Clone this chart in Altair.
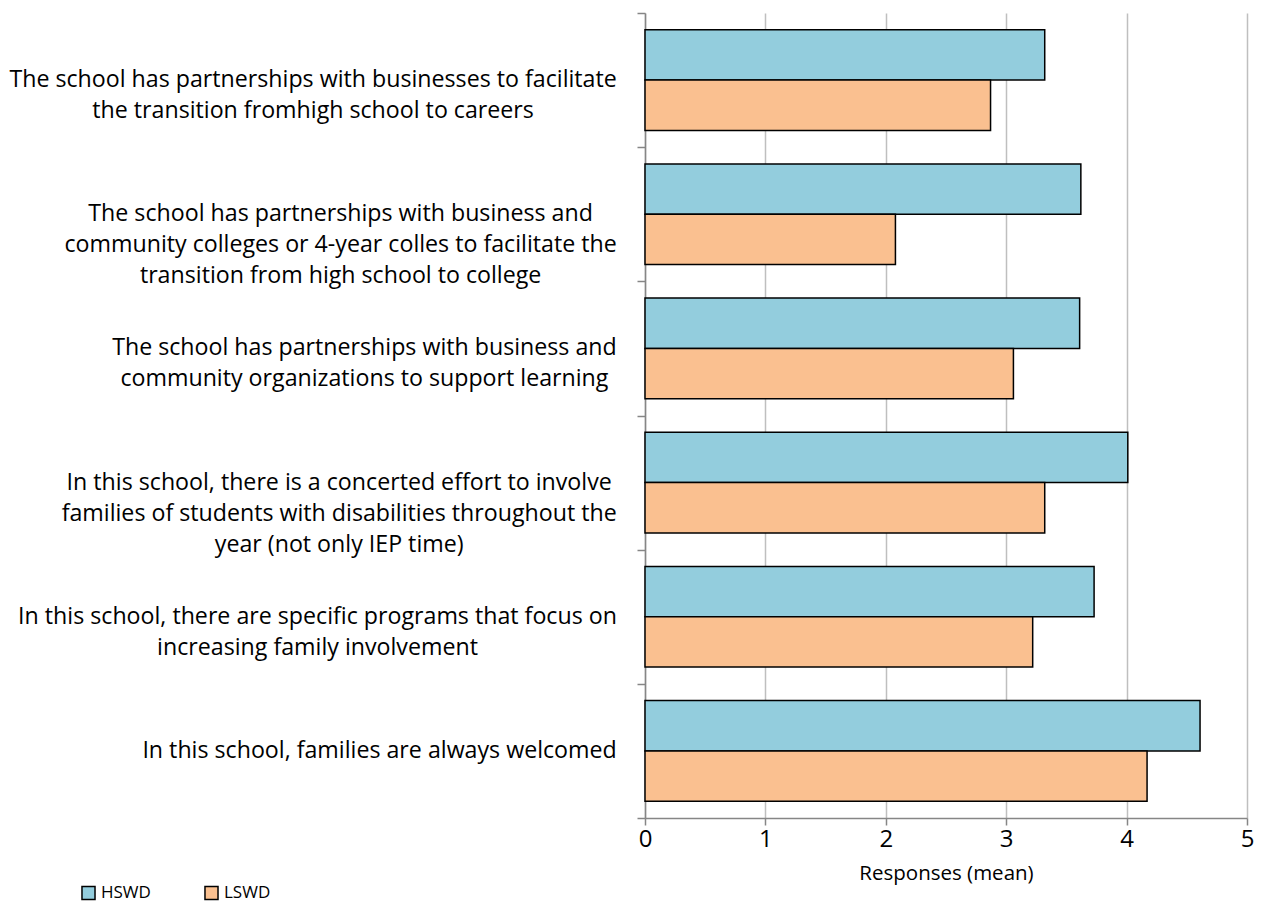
import glob
import os
import struct

import altair as alt
import pandas as pd

# ---------------- data ----------------
categories = [
    "The school has partnerships with businesses to facilitate\nthe transition fromhigh school to careers",
    "The school has partnerships with business and\ncommunity colleges or 4-year colles to facilitate the\ntransition from high school to college",
    "The school has partnerships with business and\ncommunity organizations to support learning ",
    "In this school, there is a concerted effort to involve\nfamilies of students with disabilities throughout the\nyear (not only IEP time)",
    "In this school, there are specific programs that focus on\nincreasing family involvement",
    "In this school, families are always welcomed",
]
hswd = [3.32, 3.62, 3.61, 4.01, 3.73, 4.61]
lswd = [2.87, 2.08, 3.06, 3.32, 3.22, 4.17]
series = ["HSWD", "LSWD"]
colors = ["#93CDDD", "#FAC090"]
x_ticks = [0, 1, 2, 3, 4, 5]
x_title = "Responses (mean)"

FONT = "Open Sans"

# ---------------- text measuring (reads the installed font file) ----------------
def _find_font():
    pats = ["OpenSans-Regular*.ttf", "OpenSans*.ttf"]
    roots = ["/usr/share/fonts", "/usr/local/share/fonts",
             os.path.expanduser("~/.fonts"), os.path.expanduser("~/.local/share/fonts")]
    for p in pats:
        for r in roots:
            hits = sorted(glob.glob(os.path.join(r, "**", p), recursive=True))
            hits = [h for h in hits if "Italic" not in h and "Bold" not in h and "Light" not in h
                    and "Semi" not in h and "Extra" not in h and "Condensed" not in h]
            if hits:
                return hits[0]
    return None


def _load_metrics(path):
    data = open(path, "rb").read()
    n = struct.unpack(">H", data[4:6])[0]
    tables = {}
    for i in range(n):
        tag, _cs, off, ln = struct.unpack(">4sIII", data[12 + 16 * i:28 + 16 * i])
        tables[tag.decode("latin1")] = off
    upem = struct.unpack(">H", data[tables["head"] + 18:tables["head"] + 20])[0]
    nhm = struct.unpack(">H", data[tables["hhea"] + 34:tables["hhea"] + 36])[0]
    ho = tables["hmtx"]
    adv = [struct.unpack(">H", data[ho + 4 * i:ho + 4 * i + 2])[0] for i in range(nhm)]
    co = tables["cmap"]
    ns = struct.unpack(">H", data[co + 2:co + 4])[0]
    cmap = {}
    for i in range(ns):
        pid, eid, so = struct.unpack(">HHI", data[co + 4 + 8 * i:co + 12 + 8 * i])
        sub = co + so
        fmt = struct.unpack(">H", data[sub:sub + 2])[0]
        if fmt != 4:
            continue
        segx2 = struct.unpack(">H", data[sub + 6:sub + 8])[0]
        seg = segx2 // 2
        ends = struct.unpack(">%dH" % seg, data[sub + 14:sub + 14 + segx2])
        starts = struct.unpack(">%dH" % seg, data[sub + 16 + segx2:sub + 16 + 2 * segx2])
        deltas = struct.unpack(">%dh" % seg, data[sub + 16 + 2 * segx2:sub + 16 + 3 * segx2])
        rpos = sub + 16 + 3 * segx2
        roffs = struct.unpack(">%dH" % seg, data[rpos:rpos + segx2])
        for s in range(seg):
            for c in range(starts[s], min(ends[s], 0x2FF) + 1):
                if roffs[s] == 0:
                    g = (c + deltas[s]) & 0xFFFF
                else:
                    a = rpos + 2 * s + roffs[s] + 2 * (c - starts[s])
                    g = struct.unpack(">H", data[a:a + 2])[0]
                    if g:
                        g = (g + deltas[s]) & 0xFFFF
                cmap[c] = g
        break
    return upem, adv, cmap


_metrics = None
try:
    _fp = _find_font()
    if _fp:
        _metrics = _load_metrics(_fp)
except Exception:
    _metrics = None


def text_width(text, size):
    if _metrics is None:
        return len(text) * 0.55 * size
    upem, adv, cmap = _metrics
    tot = 0
    for ch in text:
        g = cmap.get(ord(ch), 0)
        tot += adv[min(g, len(adv) - 1)]
    return tot * size / upem


# ---------------- layout ----------------
W_PLOT, H_PLOT = 602, 805
PAD_L, PAD_T = 645, 13
PAD_R = 1261 - PAD_L - W_PLOT
PAD_B = 907 - PAD_T - H_PLOT
LABEL_GAP = 28          # gap between label block and the axis
LONGEST_PX = 607        # width of the widest label line in the reference

all_lines = [ln for c in categories for ln in c.split("\n")]
longest = max(all_lines, key=lambda s: text_width(s, 1))
LABEL_SIZE = round(LONGEST_PX / text_width(longest, 1), 1)
LEG_SIZE = 17

px_per_unit = W_PLOT / (x_ticks[-1] - x_ticks[0])

bars = pd.DataFrame({
    "cat": categories * 2,
    "series": [series[0]] * len(categories) + [series[1]] * len(categories),
    "value": hswd + lswd,
})

label_rows = []
for c in categories:
    block = max(text_width(ln, LABEL_SIZE) for ln in c.split("\n"))
    center_px = -(LABEL_GAP + block / 2)
    label_rows.append({"cat": c, "cx": center_px / px_per_unit})
labels = pd.DataFrame(label_rows)

y_enc = alt.Y(
    "cat:N", sort=categories, title=None,
    scale=alt.Scale(paddingInner=0, paddingOuter=0),
    axis=alt.Axis(labels=False, ticks=True, tickBand="extent", tickSize=8,
                  tickColor="#868686", domainColor="#868686", domainWidth=1.5,
                  tickWidth=1.5, grid=False),
)

bar_layer = alt.Chart(bars).mark_bar(stroke="black", strokeWidth=1.5).encode(
    x=alt.X(
        "value:Q",
        scale=alt.Scale(domain=[x_ticks[0], x_ticks[-1]], nice=False, zero=True),
        axis=alt.Axis(values=x_ticks, title=x_title, format="d",
                      labelFontSize=24, labelFont=FONT, labelColor="black",
                      labelFlush=False, labelPadding=2,
                      tickSize=7, tickColor="#868686", tickWidth=1.5,
                      domainColor="#868686", domainWidth=1.5,
                      gridColor="#BFBFBF", gridWidth=1.5,
                      titleFontSize=20.5, titleFont=FONT, titleFontWeight="normal",
                      titleColor="black", titlePadding=12),
    ),
    y=y_enc,
    yOffset=alt.YOffset("series:N", sort=series,
                        scale=alt.Scale(paddingInner=0, paddingOuter=1 / 3)),
    color=alt.Color(
        "series:N", sort=series,
        scale=alt.Scale(domain=series, range=colors),
        legend=alt.Legend(
            title=None, orient="none", direction="horizontal",
            legendX=80 - PAD_L, legendY=884 - PAD_T,
            symbolType="square", symbolSize=170, symbolStrokeColor="black",
            symbolStrokeWidth=1.5, symbolOpacity=1,
            labelFont=FONT, labelFontSize=LEG_SIZE, labelColor="black",
            labelOffset=4,
            columnPadding=198 - 80 - (14 + 4 + text_width(series[0], LEG_SIZE)),
        ),
    ),
)

label_layer = alt.Chart(labels).mark_text(
    align="center", baseline="middle", lineBreak="\n", lineHeight=31,
    font=FONT, fontSize=LABEL_SIZE, color="black",
).encode(
    x=alt.X("cx:Q"),
    y=alt.Y("cat:N", sort=categories),
    text=alt.Text("cat:N"),
)

chart = alt.layer(bar_layer, label_layer).properties(
    width=W_PLOT, height=H_PLOT,
    background="white",
    autosize=alt.AutoSizeParams(type="none"),
    padding={"left": PAD_L, "top": PAD_T, "right": PAD_R, "bottom": PAD_B},
).configure_view(stroke="transparent", strokeWidth=0)

chart.save("out.html", embed_options={"renderer": "svg", "actions": False})
